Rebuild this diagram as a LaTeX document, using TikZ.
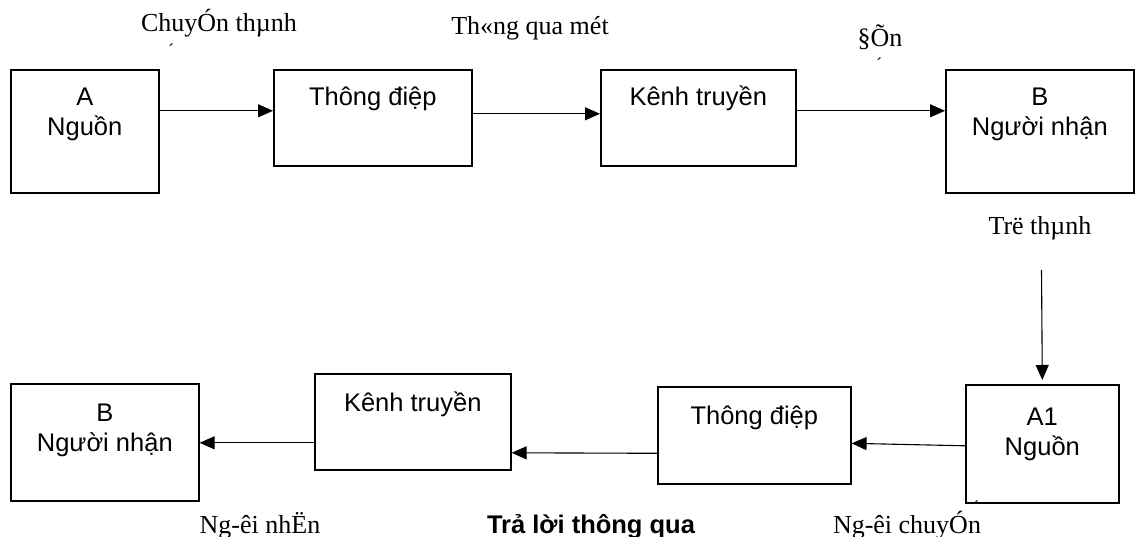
\documentclass[tikz,border=0pt]{standalone}
\usepackage{fontspec}
\setmainfont{Liberation Serif}
\newfontfamily\arialfont{Liberation Sans}
\usetikzlibrary{arrows.meta,calc,positioning}

\begin{document}
\begin{tikzpicture}[x=1pt,y=-1pt,
    box/.style={draw, line width=1.6pt, inner sep=0pt, anchor=north west},
    boxtext/.style={font=\arialfont\fontsize{25.5}{30}\selectfont, align=center, inner sep=0pt},
    note/.style={font=\fontsize{26}{30}\selectfont, inner sep=0pt, anchor=base},
    accent/.style={font=\fontsize{18}{20}\selectfont, inner sep=0pt},
    flow/.style={line width=1.1pt, -{Triangle[length=15pt,width=13pt]}}]
  \useasboundingbox (0,0) rectangle (1135,537);

  % top row
  \node[box, minimum width=148pt, minimum height=123pt] (srcA) at (10,69) {};
  \node[box, minimum width=198pt, minimum height=96pt] (msgTop) at (273,69) {};
  \node[box, minimum width=195pt, minimum height=96pt] (chanTop) at (600,69) {};
  \node[box, minimum width=188pt, minimum height=123pt] (recvB) at (945,69) {};

  \node[boxtext, below=15pt of srcA.north] (srcAtxt) {\rule{0pt}{21pt}A\\Nguồn};
  \node[boxtext, below=15pt of msgTop.north] (msgToptxt) {\rule{0pt}{21pt}Thông điệp};
  \node[boxtext, below=15pt of chanTop.north] (chanToptxt) {\rule{0pt}{21pt}Kênh truyền};
  \node[boxtext, below=15pt of recvB.north] (recvBtxt) {\rule{0pt}{21pt}B\\Người nhận};

  % bottom row
  \node[box, minimum width=188pt, minimum height=117pt] (recvBot) at (10,383) {};
  \node[box, minimum width=196pt, minimum height=96pt] (chanBot) at (314,373) {};
  \node[box, minimum width=193pt, minimum height=97pt] (msgBot) at (657,386) {};
  \node[box, minimum width=153pt, minimum height=118pt] (srcA1) at (965,384) {};

  \node[boxtext, below=17pt of recvBot.north] (recvBottxt) {\rule{0pt}{21pt}B\\Người nhận};
  \node[boxtext, below=17pt of chanBot.north] (chanBottxt) {\rule{0pt}{21pt}Kênh truyền};
  \node[boxtext, below=17pt of msgBot.north] (msgBottxt) {\rule{0pt}{21pt}Thông điệp};
  \node[boxtext, below=20pt of srcA1.north] (srcA1txt) {\rule{0pt}{21pt}A1\\Nguồn};

  % labels
  \node[note] (lblConvert) at (219,32) {ChuyÓn thµnh};
  \node[note] (lblVia) at (530,35) {Th«ng qua mét};
  \node[note] (lblTo) at (880,47) {§Õn};
  \node[note] (lblBecome) at (1040,235) {Trë thµnh};
  \node[note] (lblRecv) at (260,533) {Ng-êi nhËn};
  \node[note, font=\arialfont\bfseries\fontsize{25.5}{30}\selectfont] (lblReply) at (591,533) {Trả lời thông qua};
  \node[note] (lblSend) at (907,533) {Ng-êi chuyÓn};
  \node[accent] (accConvert) at (171,50) {´};
  \node[accent] (accTo) at (879,64) {´};
  \node[accent] (accSend) at (976,507) {´};

  % connectors
  \draw[flow] ([yshift=20.5pt]srcA.east) -- ([yshift=7pt]msgTop.west);
  \draw[flow] ([yshift=4pt]msgTop.east) -- ([yshift=4pt]chanTop.west);
  \draw[flow] ([yshift=7pt]chanTop.east) -- ([yshift=20.5pt]recvB.west);
  \coordinate (turnTop) at (1041.5,270);
  \draw[flow] (turnTop) -- ([yshift=4pt]srcA1.north);
  \draw[flow] ([yshift=-2pt]srcA1.west) -- ([yshift=-8pt]msgBot.east);
  \draw[flow] ([yshift=-18pt]msgBot.west) -- ([yshift=-31pt]chanBot.east);
  \draw[flow] ([yshift=-21pt]chanBot.west) -- ([yshift=-0.5pt]recvBot.east);
\end{tikzpicture}
\end{document}
